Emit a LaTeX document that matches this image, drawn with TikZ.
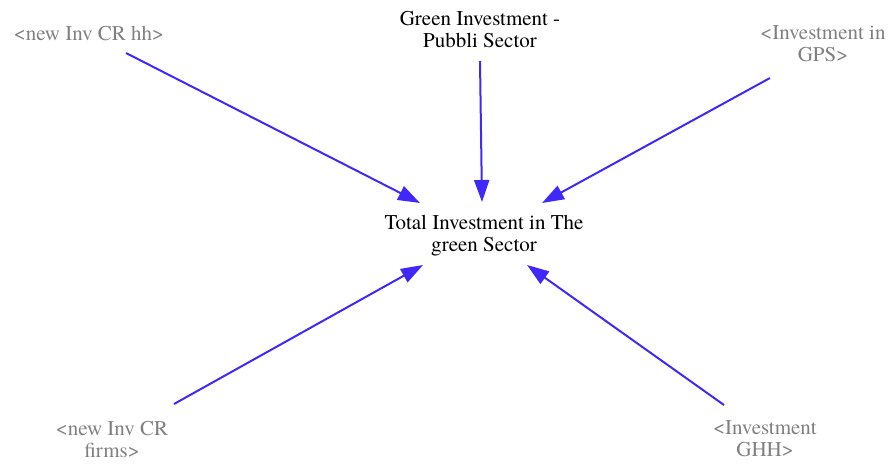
\documentclass[tikz,border=0pt]{standalone}
\usepackage{fontspec}
\setmainfont{TeX Gyre Termes}
\usetikzlibrary{arrows.meta}
\definecolor{arrowblue}{RGB}{64,40,250}
\definecolor{shadowgray}{RGB}{128,128,128}
\begin{document}
\begin{tikzpicture}[x=1pt,y=-1pt,
  lbl/.style={align=center,font=\fontsize{21}{22}\selectfont,inner sep=0pt},
  shadow/.style={lbl,text=shadowgray},
  link/.style={draw=arrowblue,line width=2pt,-{Triangle[length=22pt,width=15pt]}}]
\useasboundingbox (0,0) rectangle (893,465);
\node[shadow] (hh) at (89,33) {<new Inv CR hh>};
\node[lbl] (gips) at (480,30) {Green Investment -\\Pubbli Sector};
\node[shadow] (gps) at (823,44) {<Investment in\\GPS>};
\node[lbl] (tot) at (484,236) {Total Investment in The\\green Sector};
\node[shadow] (firms) at (112,440) {<new Inv CR\\firms>};
\node[shadow] (ghh) at (765,439) {<Investment\\GHH>};
\draw[link] ([shift={(37,20)}]hh.center) -- ([shift={(-64,-33)}]tot.center);
\draw[link] ([shift={(0,31)}]gips.center) -- ([shift={(-2,-34)}]tot.center);
\draw[link] ([shift={(-53,34)}]gps.center) -- ([shift={(58,-33)}]tot.center);
\draw[link] ([shift={(62,-36)}]firms.center) -- ([shift={(-61,29)}]tot.center);
\draw[link] ([shift={(-41,-34)}]ghh.center) -- ([shift={(43,29)}]tot.center);
\end{tikzpicture}
\end{document}
